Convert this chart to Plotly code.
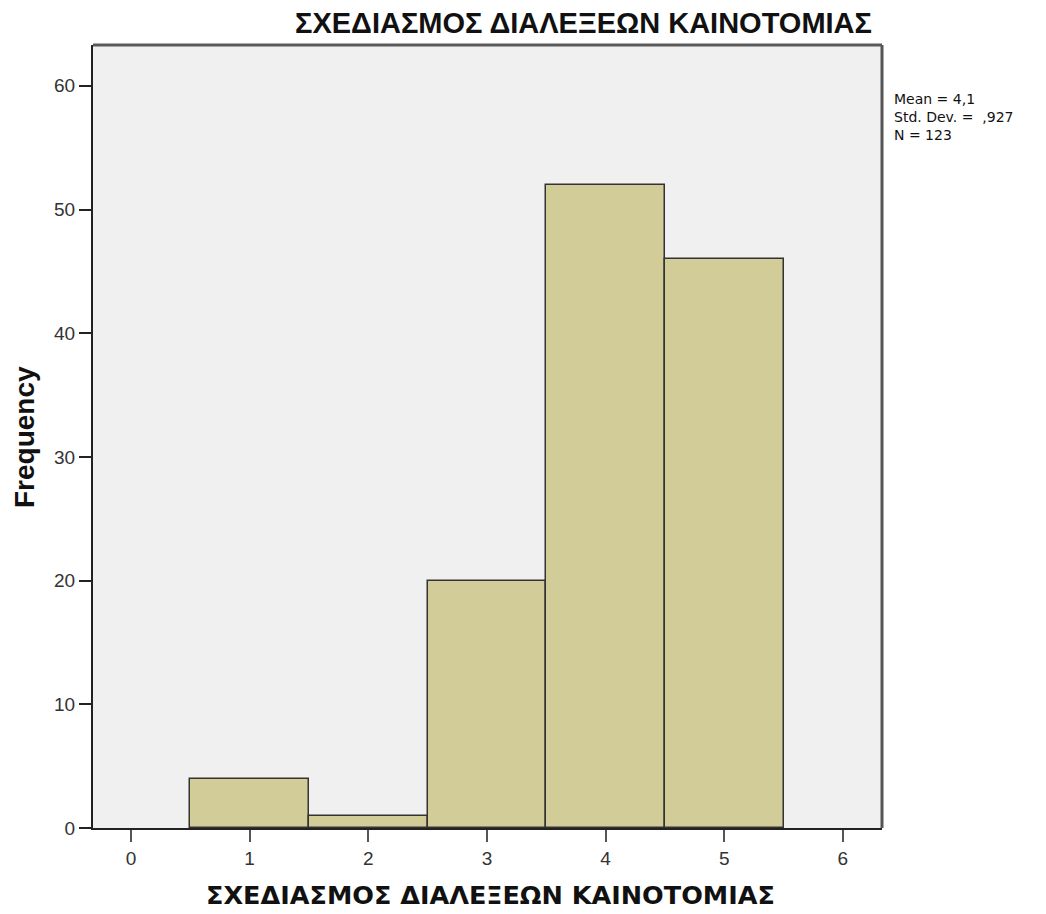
import plotly.graph_objects as go

# histogram bins (scale values) and counts
categories = [1, 2, 3, 4, 5]
frequency = [4, 1, 20, 52, 46]
x_ticks = [0, 1, 2, 3, 4, 5, 6]
y_ticks = [0, 10, 20, 30, 40, 50, 60]
title_text = "ΣΧΕΔΙΑΣΜΟΣ ΔΙΑΛΕΞΕΩΝ ΚΑΙΝΟΤΟΜΙΑΣ"
stats_lines = ["Mean = 4,1", "Std. Dev. =  ,927", "N = 123"]

# the page body adds an 8px margin, so the figure is drawn 8px smaller
OFF = 8
W, H = 1046 - OFF, 914 - OFF
plot_left, plot_right, plot_top, plot_bottom = 93, 882, 45, 828  # reference px
L = plot_left - OFF
T = plot_top - OFF
R = W - (plot_right - OFF)
B = H - (plot_bottom - OFF)

fig = go.Figure()

fig.add_trace(go.Bar(
    x=categories,
    y=frequency,
    width=1,
    marker=dict(color="#d2cd98", line=dict(color="#333333", width=1.5)),
    showlegend=False,
))

fig.update_layout(
    width=W, height=H,
    margin=dict(l=L, r=R, t=T, b=B),
    paper_bgcolor="white",
    plot_bgcolor="#f0f0f0",
    font=dict(family="Liberation Sans, Arial", color="#222222"),
    bargap=0,
)

fig.update_xaxes(
    range=[-0.32, 6.33],
    tickvals=x_ticks,
    ticks="outside", ticklen=12, tickwidth=2, tickcolor="#555555",
    tickfont=dict(size=19, color="#333333"),
    showgrid=False, zeroline=False,
    showline=True, linecolor="#222222", linewidth=2, mirror=False,
)
fig.update_yaxes(
    range=[0, 63.3],
    tickvals=y_ticks,
    ticks="outside", ticklen=12, tickwidth=2, tickcolor="#222222",
    tickfont=dict(size=19, color="#333333"),
    showgrid=False, zeroline=False,
    showline=True, linecolor="#222222", linewidth=2, mirror=False,
)

# frame top and right
fig.add_shape(type="line", xref="paper", yref="paper", x0=0, x1=1, y0=1, y1=1,
              line=dict(color="#5a5a5a", width=3))
fig.add_shape(type="line", xref="paper", yref="paper", x0=1, x1=1, y0=0, y1=1,
              line=dict(color="#555555", width=3))

pw = W - L - R
ph = H - T - B


def px_x(p):
    return (p - OFF - L) / pw


def px_y(p):
    return (H - B - (p - OFF)) / ph


fig.add_annotation(text="<b>" + title_text + "</b>", xref="paper", yref="paper",
                   x=px_x(583), y=px_y(23), showarrow=False, borderpad=0,
                   font=dict(size=29, color="#111111"), xanchor="center", yanchor="middle")
fig.add_annotation(text="<b>" + title_text + "</b>", xref="paper", yref="paper",
                   x=px_x(490), y=px_y(895), showarrow=False,
                   font=dict(family="DejaVu Sans", size=25.5, color="#111111"),
                   xanchor="center", yanchor="middle")
fig.add_annotation(text="<b>Frequency</b>", xref="paper", yref="paper",
                   x=px_x(24), y=px_y(437), showarrow=False, textangle=-90,
                   font=dict(size=28, color="#111111"), xanchor="center", yanchor="middle")
fig.add_annotation(text="<br>".join(stats_lines), xref="paper", yref="paper",
                   x=px_x(893), y=px_y(90), showarrow=False, align="left", borderpad=0,
                   font=dict(family="DejaVu Sans", size=14, color="#111111"),
                   xanchor="left", yanchor="top")

fig.write_html("out.html")
